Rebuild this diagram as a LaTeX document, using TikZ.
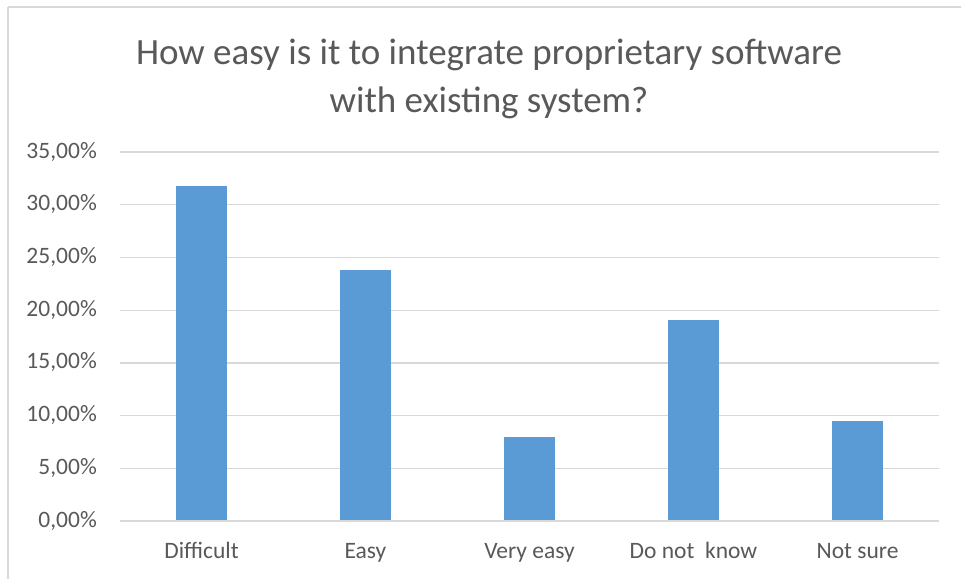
\documentclass[tikz,border=0pt]{standalone}
\usepackage{fontspec}
\setmainfont{Carlito}
\definecolor{barblue}{HTML}{5B9BD5}
\definecolor{gridgray}{HTML}{D9D9D9}
\definecolor{textgray}{HTML}{595959}
\begin{document}
\begin{tikzpicture}[x=1pt,y=-1pt,
  grid/.style={draw=gridgray,line width=1.3pt},
  frame/.style={draw=gridgray,line width=1.5pt},
  bar/.style={fill=barblue,draw=none},
  ticklabel/.style={anchor=base east,inner sep=0pt,text=textgray,font=\fontsize{23.5}{28}\selectfont},
  catlabel/.style={anchor=base,inner sep=0pt,text=textgray,font=\fontsize{23.5}{28}\selectfont},
  titletext/.style={anchor=base,inner sep=0pt,text=textgray,font=\fontsize{37}{44}\selectfont}]
\useasboundingbox (0,0) rectangle (961,579);
\fill[white] (0,0) rectangle (961,579);
% chart frame (top and left edges)
\draw[frame] (8,7) -- (961,7);
\draw[frame] (8,7) -- (8,579);
% title
\node[titletext] (t1) at (489,64) {How easy is it to integrate proprietary software};
\node[titletext] (t2) at (489,112) {with existing system?};
% gridlines and value axis labels
\foreach \i/\lab in {0/{0,00\%},1/{5,00\%},2/{10,00\%},3/{15,00\%},4/{20,00\%},5/{25,00\%},6/{30,00\%},7/{35,00\%}}{
  \pgfmathsetmacro{\yy}{521-\i*52.7}
  \draw[grid] (120,\yy) -- (939,\yy);
  \node[ticklabel] (y\i) at (97,\yy+6) {\lab};
}
% bars
\foreach \c/\v/\lab in {201.5/31.75/Difficult,365.5/23.81/Easy,529.5/7.94/Very easy,693.5/19.05/Do not\ \ know,857.5/9.52/Not sure}{
  \pgfmathsetmacro{\top}{521-\v*10.54}
  \fill[bar] (\c-25.5,520) rectangle (\c+25.5,\top);
  \node[catlabel] at (\c,558) {\lab};
}
\end{tikzpicture}
\end{document}
